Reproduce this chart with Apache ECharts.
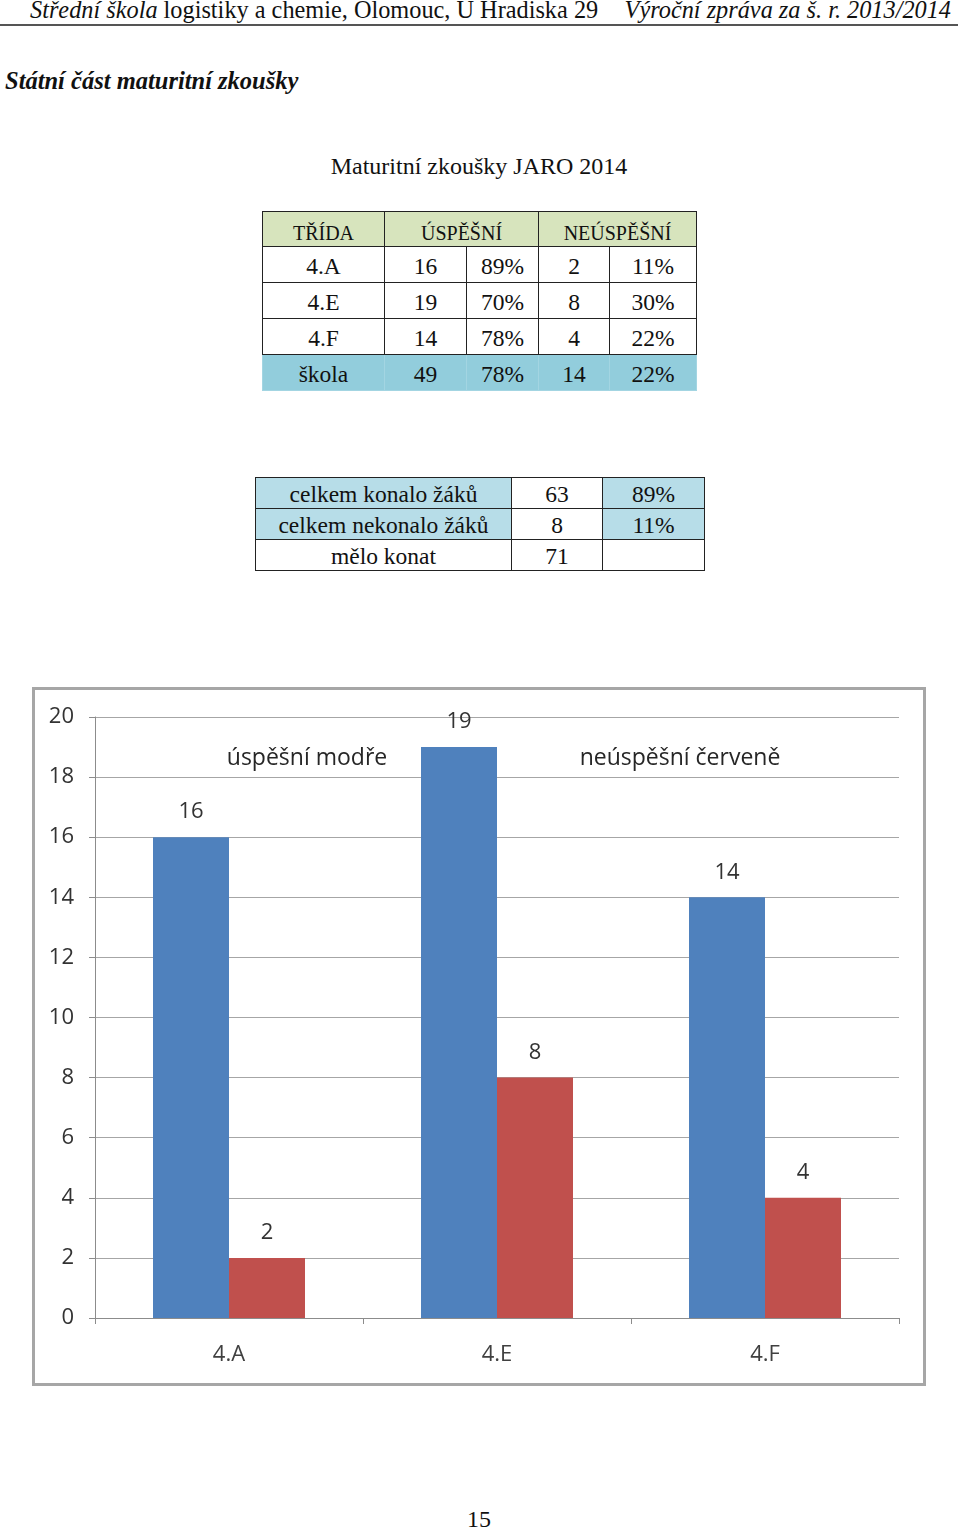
<!DOCTYPE html>
<html>
<head>
<meta charset="utf-8">
<script src="https://cdn.jsdelivr.net/npm/echarts@6/dist/echarts.min.js"></script>
<style>
  html, body { margin:0; padding:0; background:#fff; }
  body { width:960px; height:1530px; position:relative; overflow:hidden; font-family:"Liberation Serif","DejaVu Serif",serif; color:#111; }
  .abs { position:absolute; white-space:nowrap; }
  #hdrL { left:30px; top:-4px; font-size:24.3px; }
  #hdrR { right:9px; top:-4px; font-size:24.3px; font-style:italic; }
  #hdrLine { left:0; top:24px; width:958px; height:0; border-top:2px solid #555; }
  #title { left:5px; top:67px; font-size:24.5px; font-weight:bold; font-style:italic; }
  #subtitle { left:0; width:958px; text-align:center; top:153px; font-size:24px; }
  table { border-collapse:collapse; table-layout:fixed; position:absolute; }
  td { padding:0; text-align:center; vertical-align:middle; overflow:hidden; line-height:1; }
  #t1 td { border:1px solid #222; font-size:23.5px; height:36px; padding-top:4px; box-sizing:border-box; }
  #t1 tr.head td { background:#d7e4bd; font-size:20px; height:35px; padding-top:8px; }
  #t1 tr.sum td { background:#92cddc; border:1px solid #a3d5e2; border-top:1px solid #222; }
  #t2 td { border:1px solid #222; font-size:23.5px; height:31px; padding-top:3px; box-sizing:border-box; }
  #t2 td.blue { background:#b7dde8; }
  #chartWrap { position:absolute; left:32px; top:687px; width:894px; height:699px; box-sizing:border-box; border:3px solid #a6a6a6; }
  #chart { position:absolute; left:0; top:0; width:888px; height:693px; }
  #pageNo { left:0; width:958px; text-align:center; top:1506px; font-size:24px; }
</style>
</head>
<body>
<div class="abs" id="hdrL"><i>Střední škola</i> logistiky a chemie, Olomouc, U Hradiska 29</div>
<div class="abs" id="hdrR">Výroční zpráva za š. r. 2013/2014</div>
<div class="abs" id="hdrLine"></div>
<div class="abs" id="title">Státní část maturitní zkoušky</div>
<div class="abs" id="subtitle">Maturitní zkoušky JARO 2014</div>
<table id="t1" style="left:262px; top:211px; width:434px;"></table>
<table id="t2" style="left:255px; top:477px; width:449px;"></table>
<div id="chartWrap"><div id="chart"></div></div>
<div class="abs" id="pageNo">15</div>
<script>
// ---- data ----
const tableHead = ['TŘÍDA', 'ÚSPĚŠNÍ', 'NEÚSPĚŠNÍ'];
const classes = ['4.A', '4.E', '4.F'];
const successCount = [16, 19, 14];
const successPct = ['89%', '70%', '78%'];
const failCount = [2, 8, 4];
const failPct = ['11%', '30%', '22%'];
const schoolRow = ['škola', '49', '78%', '14', '22%'];
const summaryLabels = ['celkem konalo žáků', 'celkem nekonalo žáků', 'mělo konat'];
const summaryCounts = ['63', '8', '71'];
const summaryPct = ['89%', '11%', ''];
const chartNotes = ['úspěšní modře', 'neúspěšní červeně'];
const yMax = 20, yStep = 2;

// ---- tables ----
const colW1 = [122, 82, 72, 71, 87];
let h1 = '<colgroup>' + colW1.map(w => `<col style="width:${w}px">`).join('') + '</colgroup>';
h1 += `<tr class="head"><td>${tableHead[0]}</td><td colspan="2">${tableHead[1]}</td><td colspan="2">${tableHead[2]}</td></tr>`;
classes.forEach((c, i) => {
  h1 += `<tr><td>${c}</td><td>${successCount[i]}</td><td>${successPct[i]}</td><td>${failCount[i]}</td><td>${failPct[i]}</td></tr>`;
});
h1 += '<tr class="sum">' + schoolRow.map(v => `<td>${v}</td>`).join('') + '</tr>';
document.getElementById('t1').innerHTML = h1;

const colW2 = [256, 91, 102];
let h2 = '<colgroup>' + colW2.map(w => `<col style="width:${w}px">`).join('') + '</colgroup>';
summaryLabels.forEach((l, i) => {
  const b = i < 2 ? ' class="blue"' : '';
  h2 += `<tr><td${b}>${l}</td><td>${summaryCounts[i]}</td><td${b}>${summaryPct[i]}</td></tr>`;
});
document.getElementById('t2').innerHTML = h2;

// ---- chart ----
const chart = echarts.init(document.getElementById('chart'));
const font = '"Open Sans", "Noto Sans", sans-serif';
chart.setOption({
  animation: false,
  textStyle: { fontFamily: font },
  grid: { left: 60, top: 27, width: 804, height: 601, containLabel: false },
  xAxis: {
    type: 'category',
    data: classes,
    axisLine: { show: true, lineStyle: { color: '#8c8c8c', width: 1 } },
    axisTick: { show: true, length: 6, lineStyle: { color: '#8c8c8c' } },
    axisLabel: { color: '#404040', fontSize: 22, margin: 26, fontFamily: font }
  },
  yAxis: {
    type: 'value', min: 0, max: yMax, interval: yStep,
    axisLine: { show: true, lineStyle: { color: '#8c8c8c', width: 1 } },
    axisTick: { show: true, length: 6, lineStyle: { color: '#8c8c8c' } },
    axisLabel: { color: '#333333', fontSize: 22, margin: 21, fontFamily: font },
    splitLine: { show: true, lineStyle: { color: '#a6a6a6', width: 1 } }
  },
  series: [
    {
      type: 'bar', data: successCount, barWidth: 76, barGap: '0%',
      itemStyle: { color: '#4f81bd' },
      label: { show: true, position: 'top', distance: 14, color: '#333333', fontSize: 22, fontFamily: font }
    },
    {
      type: 'bar', data: failCount, barWidth: 76, barGap: '0%',
      itemStyle: { color: '#c0504d' },
      label: { show: true, position: 'top', distance: 14, color: '#333333', fontSize: 22, fontFamily: font }
    }
  ],
  graphic: [
    { type: 'text', x: 272, y: 68, style: { text: chartNotes[0], font: '23px ' + font, fill: '#262626', textAlign: 'center', textVerticalAlign: 'middle' } },
    { type: 'text', x: 645, y: 68, style: { text: chartNotes[1], font: '23px ' + font, fill: '#262626', textAlign: 'center', textVerticalAlign: 'middle' } }
  ]
});
</script>
</body>
</html>
